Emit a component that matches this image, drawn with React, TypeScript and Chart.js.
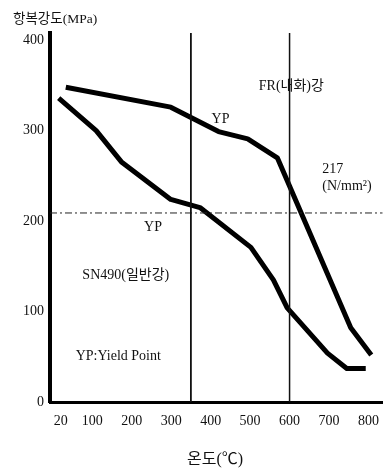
import React, { useEffect, useRef } from "react";
import { Chart, registerables } from "chart.js";

Chart.register(...registerables);

// Tick labels
const xTicks = [20, 100, 200, 300, 400, 500, 600, 700, 800];
const yTicks = [0, 100, 200, 300, 400];

// FR (fire resistant) steel yield point curve
const frTemps = [33, 299, 420, 494, 569, 755, 807];
const frYield = [348, 326, 299, 291, 270, 82, 52];

// SN490 (general) steel yield point curve
const snTemps = [15, 110, 175, 299, 373, 502, 559, 594, 696, 745, 793];
const snYield = [336, 300, 265, 224, 215, 171, 135, 104, 54, 37, 37];

// Reference lines
const refTemps = [350, 600];
const refStress = 209;

const X_MIN = -7;
const X_MAX = 836;
const Y_MAX = 408;

const SERIF = '"Liberation Serif", "Noto Sans CJK KR", serif';

const textPlugin = {
  id: "annotTexts",
  afterDraw(chart: any) {
    const ctx = chart.ctx as CanvasRenderingContext2D;
    const xs = chart.scales.x;
    const ys = chart.scales.y;
    const px = (v: number) => xs.getPixelForValue(v);
    const py = (v: number) => ys.getPixelForValue(v);
    ctx.save();
    ctx.fillStyle = "#111";
    ctx.textBaseline = "middle";
    const put = (t: string, x: number, y: number, size: number, align: CanvasTextAlign) => {
      ctx.font = `${size}px ${SERIF}`;
      ctx.textAlign = align;
      ctx.fillText(t, x, y);
    };
    // axis titles
    put("항복강도(MPa)", 13, 19, 13.5, "left");
    put("온도(℃)", 215, 460, 16, "center");
    // annotations (data coordinates)
    put("FR(내화)강", px(522), py(349), 14, "left");
    put("YP", px(425), py(313), 14, "center");
    put("217", px(683), py(257), 14, "left");
    put("(N/mm²)", px(683), py(239), 14, "left");
    put("YP", px(254), py(193), 14, "center");
    put("SN490(일반강)", px(75), py(140), 14, "left");
    put("YP:Yield Point", px(58), py(51), 14, "left");
    ctx.restore();
  },
};

export default function App() {
  const ref = useRef<HTMLCanvasElement | null>(null);

  useEffect(() => {
    if (!ref.current) return;
    const curve = (xs: number[], ys: number[]) => xs.map((x, i) => ({ x, y: ys[i] }));
    const datasets: any[] = [];
    refTemps.forEach((t, i) => {
      datasets.push({
        data: [
          { x: t, y: 0 },
          { x: t, y: Y_MAX },
        ],
        borderColor: "#111",
        borderWidth: i === 0 ? 1.8 : 1.5,
        pointRadius: 0,
      });
    });
    datasets.push({
      data: [
        { x: X_MIN, y: refStress },
        { x: X_MAX, y: refStress },
      ],
      borderColor: "#222",
      borderWidth: 1,
      borderDash: [7, 3, 2, 3],
      pointRadius: 0,
    });
    datasets.push({
      data: curve(frTemps, frYield),
      borderColor: "#000",
      borderWidth: 5,
      pointRadius: 0,
      tension: 0,
      borderJoinStyle: "round",
    });
    datasets.push({
      data: curve(snTemps, snYield),
      borderColor: "#000",
      borderWidth: 5,
      pointRadius: 0,
      tension: 0,
      borderJoinStyle: "round",
    });

    const chart = new Chart(ref.current, {
      type: "line",
      data: { datasets },
      plugins: [textPlugin],
      options: {
        responsive: false,
        animation: false,
        layout: { padding: { top: 33, left: 0, right: 0, bottom: 0 } },
        plugins: {
          legend: { display: false },
          tooltip: { enabled: false },
          title: { display: false },
        },
        scales: {
          x: {
            type: "linear",
            min: X_MIN,
            max: X_MAX,
            grid: { display: false, drawTicks: false },
            border: { display: true, color: "#000", width: 3 },
            afterBuildTicks: (axis: any) => {
              axis.ticks = xTicks.map((v) => ({ value: v }));
            },
            afterFit: (axis: any) => {
              axis.height = 69;
            },
            ticks: {
              autoSkip: false,
              maxRotation: 0,
              padding: 11,
              color: "#111",
              font: { family: SERIF, size: 14 },
              callback: (v: any) => String(v),
            },
          },
          y: {
            type: "linear",
            min: 0,
            max: Y_MAX,
            grid: { display: false, drawTicks: false },
            border: { display: true, color: "#000", width: 4 },
            afterBuildTicks: (axis: any) => {
              axis.ticks = yTicks.map((v) => ({ value: v }));
            },
            afterFit: (axis: any) => {
              axis.width = 50;
            },
            ticks: {
              padding: 6,
              color: "#111",
              font: { family: SERIF, size: 14 },
              callback: (v: any) => String(v),
            },
          },
        },
      },
    });
    return () => chart.destroy();
  }, []);

  return (
    <div style={{ position: "absolute", left: 0, top: 0, width: 390, height: 471, background: "#fff" }}>
      <canvas ref={ref} width={390} height={471} />
    </div>
  );
}
